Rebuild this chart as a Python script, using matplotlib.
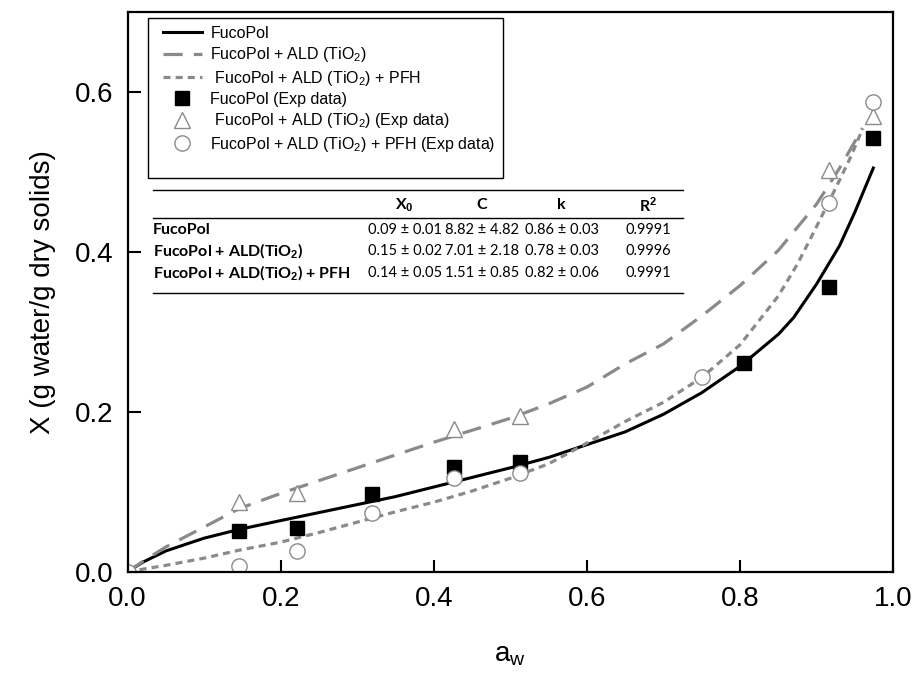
import matplotlib.pyplot as plt
from matplotlib.patches import Rectangle

plt.rcParams['font.family'] = ['Liberation Sans', 'DejaVu Sans']
plt.rcParams['mathtext.fontset'] = 'custom'
plt.rcParams['mathtext.rm'] = 'Liberation Sans'
plt.rcParams['mathtext.it'] = 'Liberation Sans:italic'
plt.rcParams['mathtext.bf'] = 'Liberation Sans:bold'

# experimental sorption points
aw_fuco = [0.146, 0.221, 0.319, 0.426, 0.512, 0.805, 0.916, 0.974]
x_fuco = [0.051, 0.055, 0.097, 0.131, 0.137, 0.261, 0.356, 0.542]
aw_ald = [0.0, 0.146, 0.221, 0.426, 0.512, 0.916, 0.974]
x_ald = [0.0, 0.087, 0.098, 0.178, 0.195, 0.502, 0.570]
aw_pfh = [0.0, 0.146, 0.221, 0.319, 0.426, 0.512, 0.750, 0.916, 0.974]
x_pfh = [0.0, 0.007, 0.026, 0.073, 0.117, 0.123, 0.244, 0.461, 0.587]

# GAB fitted curves
aw_fit_fuco = [0, 0.02, 0.05, 0.1, 0.146, 0.2, 0.25, 0.3, 0.35, 0.4, 0.45, 0.5,
               0.55, 0.6, 0.65, 0.7, 0.75, 0.8, 0.85, 0.87, 0.9, 0.91, 0.93,
               0.95, 0.96, 0.974]
x_fit_fuco = [0, 0.012, 0.026, 0.042, 0.053, 0.064, 0.074, 0.084, 0.094, 0.106, 0.118, 0.130,
              0.143, 0.159, 0.175, 0.197, 0.224, 0.257, 0.297, 0.318, 0.36, 0.376, 0.408,
              0.45, 0.473, 0.505]
aw_fit_ald = [0, 0.02, 0.05, 0.08, 0.1, 0.146, 0.2, 0.25, 0.3, 0.356, 0.4, 0.45,
              0.5, 0.55, 0.6, 0.65, 0.7, 0.75, 0.8, 0.85, 0.9, 0.93, 0.96]
x_fit_ald = [0, 0.013, 0.031, 0.046, 0.056, 0.079, 0.098, 0.114, 0.130, 0.148, 0.162, 0.177,
             0.192, 0.210, 0.231, 0.260, 0.285, 0.32, 0.358, 0.402, 0.46, 0.505, 0.555]
aw_fit_pfh = [0, 0.05, 0.1, 0.146, 0.2, 0.25, 0.3, 0.35, 0.4, 0.45, 0.5,
              0.55, 0.6, 0.65, 0.7, 0.75, 0.8, 0.85, 0.875, 0.9, 0.93, 0.945, 0.96]
x_fit_pfh = [0, 0.008, 0.017, 0.027, 0.037, 0.049, 0.062, 0.075, 0.087, 0.101, 0.117,
             0.135, 0.161, 0.188, 0.212, 0.243, 0.284, 0.345, 0.385, 0.432, 0.49, 0.52, 0.554]

# GAB parameters table
samples = ['FucoPol', 'FucoPol + ALD(TiO$_\\mathbf{2}$)', 'FucoPol + ALD(TiO$_\\mathbf{2}$) + PFH']
headers = ['X$_\\mathbf{0}$', 'C', 'k', 'R$^\\mathbf{2}$']
x0_vals = ['0.09 ± 0.01', '0.15 ± 0.02', '0.14 ± 0.05']
c_vals = ['8.82 ± 4.82', '7.01 ± 2.18', '1.51 ± 0.85']
k_vals = ['0.86 ± 0.03', '0.78 ± 0.03', '0.82 ± 0.06']
r2_vals = ['0.9991', '0.9996', '0.9991']

grey = '#8a8a8a'

fig = plt.figure(figsize=(9.18, 6.75), dpi=100)
ax = fig.add_axes([0.139, 0.153, 0.834, 0.829])

ax.plot(aw_fit_fuco, x_fit_fuco, color='black', lw=2.2, label='FucoPol')
ax.plot(aw_fit_ald, x_fit_ald, color=grey, lw=2.3, dashes=(6, 3.5),
        label='FucoPol + ALD (TiO$_2$)')
ax.plot(aw_fit_pfh, x_fit_pfh, color=grey, lw=2.3, dashes=(2.2, 1.6),
        label=' FucoPol + ALD (TiO$_2$) + PFH')
ax.plot(aw_fuco, x_fuco, 's', color='black', ms=9.5, ls='none',
        label='FucoPol (Exp data)')
ax.plot(aw_ald, x_ald, '^', mfc='white', mec=grey, mew=1, ms=12, ls='none',
        label=' FucoPol + ALD (TiO$_2$) (Exp data)')
ax.plot(aw_pfh, x_pfh, 'o', mfc='white', mec=grey, mew=1, ms=11, ls='none',
        label='FucoPol + ALD (TiO$_2$) + PFH (Exp data)')

ax.set_xlim(0, 1.0)
ax.set_ylim(0, 0.7)
ax.set_xticks([0.0, 0.2, 0.4, 0.6, 0.8, 1.0])
ax.set_yticks([0.0, 0.2, 0.4, 0.6])
ax.tick_params(direction='in', length=9, width=1.5, labelsize=20, pad=10)
for s in ax.spines.values():
    s.set_linewidth(1.6)
ax.set_xlabel('a$_\\mathrm{w}$', fontsize=20, labelpad=22)
ax.set_ylabel('X (g water/g dry solids)', fontsize=20, labelpad=14)

# legend box is drawn separately so it can be taller than the entries
ax.add_patch(Rectangle((0.027, 0.704), 0.463, 0.285, transform=ax.transAxes,
                       fill=True, facecolor='white', edgecolor='black', lw=1, zorder=4))
leg = ax.legend(loc='upper left', bbox_to_anchor=(0.035, 0.991),
                fontsize=11.5, frameon=False, handlelength=2.4,
                handletextpad=0.55, labelspacing=0.27, borderpad=0.55,
                borderaxespad=0)
leg.set_zorder(5)

# parameter table drawn in axes coordinates
lfont = dict(family=['Lato', 'DejaVu Sans'], fontsize=11.5, fontweight='bold',
             transform=ax.transAxes)
nfont = dict(family=['Lato', 'DejaVu Sans'], fontsize=10.5, transform=ax.transAxes)
x_left, x_right = 0.033, 0.725
for yl in (0.682, 0.632, 0.498):
    ax.plot([x_left, x_right], [yl, yl], color='black', lw=1, transform=ax.transAxes)
col_x = [0.362, 0.463, 0.567, 0.680]
for cx, h in zip(col_x, headers):
    ax.text(cx, 0.655, h, ha='center', va='center', **lfont)
row_y = [0.611, 0.573, 0.534]
for i, ry in enumerate(row_y):
    ax.text(x_left, ry, samples[i], ha='left', va='center', **lfont)
    for cx, v in zip(col_x, [x0_vals[i], c_vals[i], k_vals[i], r2_vals[i]]):
        ax.text(cx, ry, v, ha='center', va='center', **nfont)

fig.savefig('out.png', dpi=100)
